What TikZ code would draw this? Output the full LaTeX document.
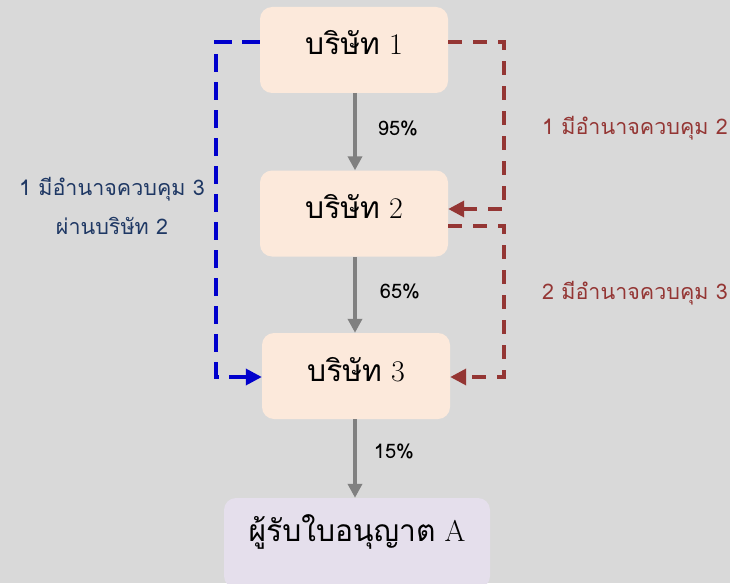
\documentclass[tikz,border=0pt]{standalone}
\usepackage{fontspec}
\newfontfamily\thai[Script=Thai]{Loma}
\usetikzlibrary{arrows.meta}
\definecolor{bg}{HTML}{D9D9D9}
\definecolor{peach}{HTML}{FCE9DB}
\definecolor{lav}{HTML}{E5DFEC}
\definecolor{grayarr}{HTML}{808080}
\definecolor{redarr}{HTML}{943634}
\definecolor{bluearr}{HTML}{0000CC}
\definecolor{bluetxt}{HTML}{1F3864}
\tikzset{
  company/.style={fill=peach, rounded corners=12pt, minimum width=188pt, minimum height=86pt, inner sep=0pt},
  licence/.style={fill=lav, rounded corners=12pt, minimum width=266pt, minimum height=90pt, inner sep=0pt},
  nodetxt/.style={font=\fontsize{30}{34}\selectfont, inner sep=0pt},
  share/.style={draw=grayarr, line width=4pt, -{Triangle[width=14pt,length=14pt]}},
  pct/.style={font=\thai\fontsize{20}{24}\selectfont, inner sep=0pt},
  redline/.style={draw=redarr, line width=3.5pt, dash pattern=on 14pt off 11pt, -{Triangle[width=16pt,length=16pt]}},
  blueline/.style={draw=bluearr, line width=3.5pt, dash pattern=on 18pt off 10pt, -{Triangle[width=16pt,length=16pt]}},
  redtxt/.style={text=redarr, font=\thai\fontsize{21.5}{26}\selectfont, inner sep=0pt},
  bluetext/.style={text=bluetxt, font=\thai\fontsize{21.5}{39}\selectfont, inner sep=0pt, align=center},
}
\begin{document}
\begin{tikzpicture}[x=1pt,y=-1pt]
\fill[bg] (0,0) rectangle (730,583);
\useasboundingbox (0,0) rectangle (730,583);
\begin{scope}
\clip (0,0) rectangle (730,583);
\node[company] (c1) at (354,50) {};
\node[company] (c2) at (354,213.5) {};
\node[company] (c3) at (356,376) {};
\node[licence] (la) at (357,543) {};
\end{scope}
\node[nodetxt] (t1) at (354,43) {{\thai บริษัท} 1};
\node[nodetxt] (t2) at (354,207) {{\thai บริษัท} 2};
\node[nodetxt] (t3) at (356,370) {{\thai บริษัท} 3};
\node[nodetxt] (ta) at (357,532) {{\thai ผู้รับใบอนุญาต} A};
% share arrows
\coordinate (s1) at (355,93);
\coordinate (s2) at (355,257);
\coordinate (s3) at (355,419);
\draw[share] (s1) -- (s1 |- c2.north);
\draw[share] (s2) -- (s2 |- c3.north);
\draw[share] (s3) -- (s3 |- la.north);
\node[pct] (p1) at (398,128) {95\%};
\node[pct] (p2) at (400,291) {65\%};
\node[pct] (p3) at (394,451) {15\%};
% control lines
\coordinate (b1) at (216,42);
\coordinate (b2) at (216,377);
\draw[blueline] (c1.west |- 0,42) -- (b1) -- (b2) -- (c3.west |- 0,377);
\coordinate (r1) at (504,42);
\coordinate (r2) at (504,209);
\draw[redline] (c1.east |- 0,42) -- (r1) -- (r2) -- (c2.east |- 0,209);
\coordinate (r3) at (504,226);
\coordinate (r4) at (504,377);
\draw[redline] (c2.east |- 0,226) -- (r3) -- (r4) -- (c3.east |- 0,377);
\node[redtxt] (l1) at (635,128) {1 มีอำนาจควบคุม 2};
\node[redtxt] (l2) at (635,293) {2 มีอำนาจควบคุม 3};
\node[bluetext] (l3) at (112,206) {1 มีอำนาจควบคุม 3\\ผ่านบริษัท 2};
\end{tikzpicture}
\end{document}
